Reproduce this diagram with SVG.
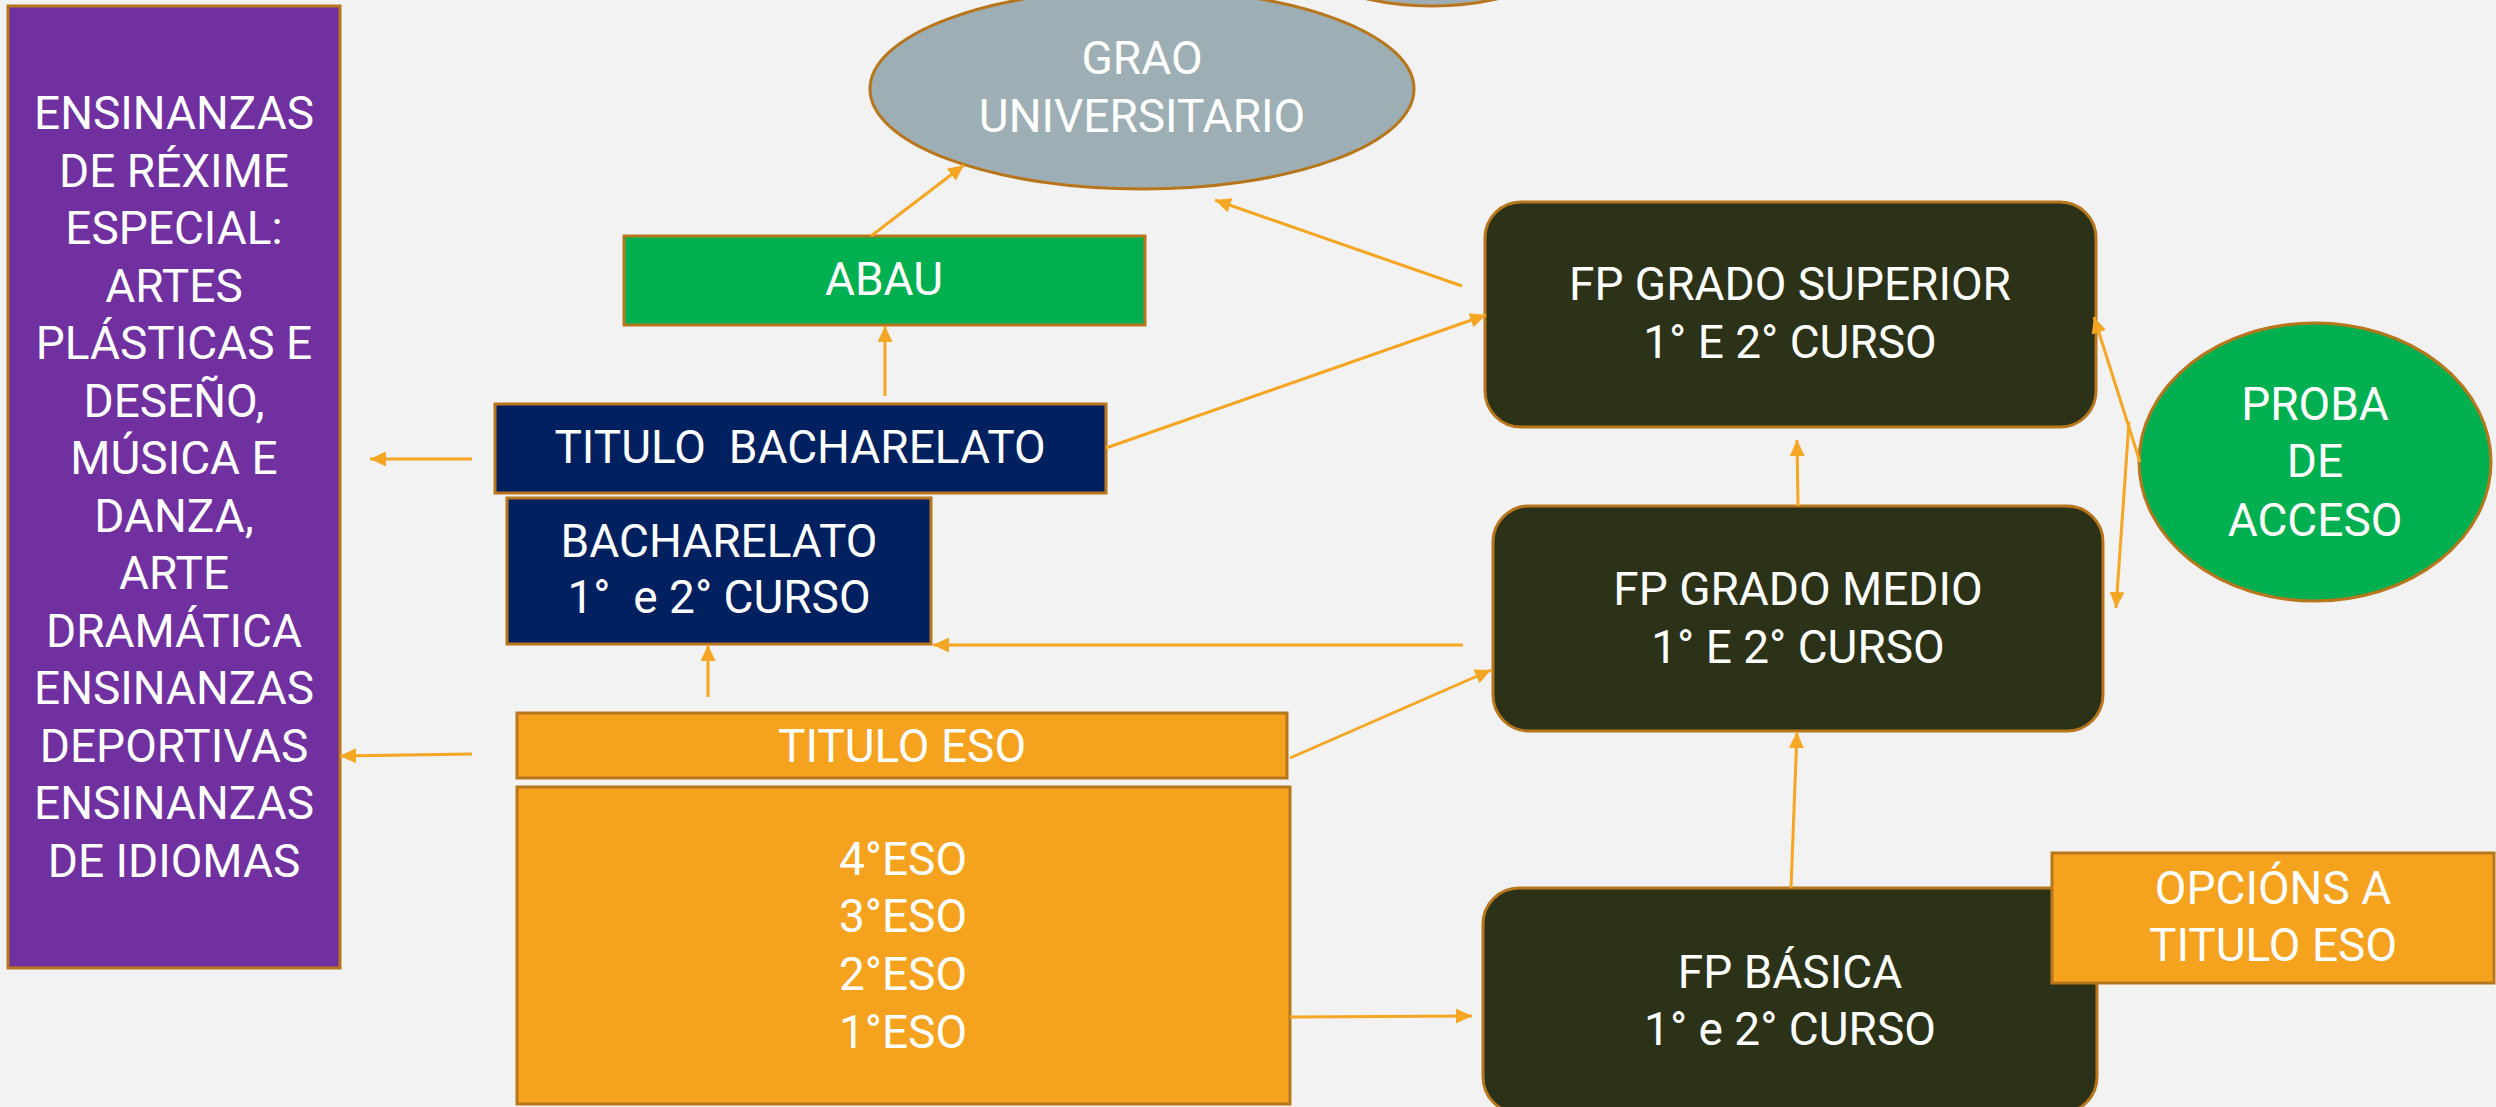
<svg xmlns="http://www.w3.org/2000/svg" width="2496" height="1107" viewBox="0 0 2496 1107">
<style>
.n{stroke:#B8761C;stroke-width:3}
.t{fill:#FFFFFF;font-family:Roboto,"Liberation Sans",sans-serif;font-size:46px;text-anchor:middle;white-space:pre}
.c{stroke:#F5A623;stroke-width:3;fill:none;marker-end:url(#ah)}
</style>
<defs>
<marker id="ah" markerUnits="userSpaceOnUse" markerWidth="16" markerHeight="15" refX="16" refY="7.5" orient="auto">
<path d="M0,0 L16,7.5 L0,15 z" fill="#F5A623"/>
</marker>
</defs>
<rect x="0" y="0" width="2496" height="1107" fill="#F2F2F2"/>
<g id="especial">
<rect class="n" x="8" y="6" width="332" height="962" fill="#7030A0"/>
<text class="t" x="174" y="129">ENSINANZAS</text>
<text class="t" x="174" y="186.5">DE RÉXIME</text>
<text class="t" x="174" y="244">ESPECIAL:</text>
<text class="t" x="174" y="301.5">ARTES</text>
<text class="t" x="174" y="359">PLÁSTICAS E</text>
<text class="t" x="174" y="416.5">DESEÑO,</text>
<text class="t" x="174" y="474">MÚSICA E</text>
<text class="t" x="174" y="531.5">DANZA,</text>
<text class="t" x="174" y="589">ARTE</text>
<text class="t" x="174" y="646.5">DRAMÁTICA</text>
<text class="t" x="174" y="704">ENSINANZAS</text>
<text class="t" x="174" y="761.5">DEPORTIVAS</text>
<text class="t" x="174" y="819">ENSINANZAS</text>
<text class="t" x="174" y="876.5">DE IDIOMAS</text>
</g>
<g id="top-ellipse">
<ellipse class="n" cx="1432" cy="-94" rx="175" ry="100" fill="#9DAFB4"/>
</g>
<g id="grao">
<ellipse class="n" cx="1142" cy="89" rx="272" ry="100" fill="#9DAFB4"/>
<text class="t" x="1142" y="74">GRAO</text>
<text class="t" x="1142" y="132">UNIVERSITARIO</text>
</g>
<g id="abau">
<rect class="n" x="624" y="236" width="521" height="89" fill="#00B050"/>
<text class="t" x="884" y="295">ABAU</text>
</g>
<g id="titulo-bacharelato">
<rect class="n" x="495" y="404" width="611" height="89" fill="#002060"/>
<text class="t" x="800" y="463">TITULO  BACHARELATO</text>
</g>
<g id="bacharelato">
<rect class="n" x="507" y="498" width="424" height="146" fill="#002060"/>
<text class="t" x="719" y="557">BACHARELATO</text>
<text class="t" x="719" y="613">1°  e 2° CURSO</text>
</g>
<g id="titulo-eso">
<rect class="n" x="517" y="713" width="770" height="65" fill="#F5A31F"/>
<text class="t" x="902" y="762">TITULO ESO</text>
</g>
<g id="eso">
<rect class="n" x="517" y="787" width="773" height="317" fill="#F5A31F"/>
<text class="t" x="903" y="875">4°ESO</text>
<text class="t" x="903" y="932">3°ESO</text>
<text class="t" x="903" y="990">2°ESO</text>
<text class="t" x="903" y="1048">1°ESO</text>
</g>
<g id="fp-superior">
<rect class="n" x="1485" y="202" width="611" height="225" rx="36" ry="36" fill="#2C3218"/>
<text class="t" x="1790" y="300">FP GRADO SUPERIOR</text>
<text class="t" x="1790" y="358">1° E 2° CURSO</text>
</g>
<g id="fp-medio">
<rect class="n" x="1493" y="506" width="610" height="225" rx="36" ry="36" fill="#2C3218"/>
<text class="t" x="1798" y="605">FP GRADO MEDIO</text>
<text class="t" x="1798" y="663">1° E 2° CURSO</text>
</g>
<g id="fp-basica">
<rect class="n" x="1483" y="888" width="614" height="225" rx="36" ry="36" fill="#2C3218"/>
<text class="t" x="1790" y="988">FP BÁSICA</text>
<text class="t" x="1790" y="1045">1° e 2° CURSO</text>
</g>
<g id="opcions">
<rect class="n" x="2052" y="853" width="442" height="130" fill="#F5A31F"/>
<text class="t" x="2273" y="904">OPCIÓNS A</text>
<text class="t" x="2273" y="961">TITULO ESO</text>
</g>
<g id="proba">
<ellipse class="n" cx="2315" cy="462" rx="176" ry="139" fill="#00B050"/>
<text class="t" x="2315" y="420">PROBA</text>
<text class="t" x="2315" y="477">DE</text>
<text class="t" x="2315" y="536">ACCESO</text>
</g>
<g id="connectors">
<line class="c" x1="472" y1="459" x2="370" y2="459"/>
<line class="c" x1="472" y1="754" x2="340" y2="756"/>
<line class="c" x1="871" y1="236" x2="964" y2="165"/>
<line class="c" x1="885" y1="396" x2="885" y2="326"/>
<line class="c" x1="708" y1="697" x2="708" y2="645"/>
<line class="c" x1="1463" y1="645" x2="933" y2="645"/>
<line class="c" x1="1106" y1="448" x2="1486" y2="315"/>
<line class="c" x1="1462" y1="286" x2="1215" y2="200"/>
<line class="c" x1="1290" y1="758" x2="1491" y2="670"/>
<line class="c" x1="1290" y1="1017" x2="1472" y2="1016"/>
<line class="c" x1="1791" y1="888" x2="1797" y2="732"/>
<line class="c" x1="1798" y1="506" x2="1797" y2="440"/>
<line class="c" x1="2140" y1="462" x2="2094" y2="317"/>
<line class="c" x1="2129" y1="422" x2="2116" y2="608"/>
</g>
</svg>
